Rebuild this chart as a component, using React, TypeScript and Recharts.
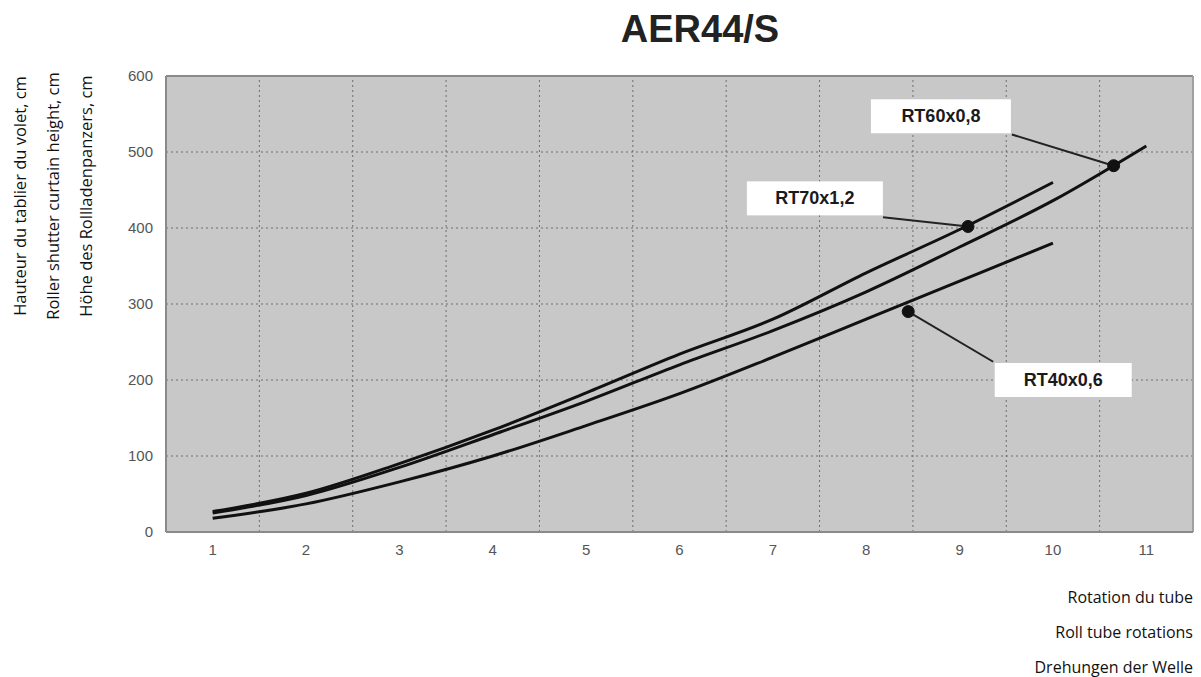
import React from 'react';
import {
  LineChart, Line, XAxis, YAxis, CartesianGrid, ReferenceLine, ReferenceDot,
} from 'recharts';

const rotations = [1, 2, 3, 4, 5, 6, 7, 8, 9, 10, 11];
const rt70x12 = [27, 51, 90, 134, 183, 234, 280, 341, 398, 460, null];
const rt60x08 = [25, 48, 85, 128, 172, 220, 265, 316, 375, 436, 508];
const rt40x06 = [18, 37, 66, 100, 140, 182, 230, 280, 330, 380, null];
const yTicks = [0, 100, 200, 300, 400, 500, 600];
const bandEdges = [1.5, 2.5, 3.5, 4.5, 5.5, 6.5, 7.5, 8.5, 9.5, 10.5];

// annotations: label text, label box centre, marker point on the curve
const annLabels = ['RT60x0,8', 'RT70x1,2', 'RT40x0,6'];
const annBoxX = [8.8, 7.45, 10.11];
const annBoxY = [547, 439, 200];
const annLeadX = [9.56, 8.18, 9.36];
const annLeadY = [523, 414, 224];
const annDotX = [10.65, 9.09, 8.45];
const annDotY = [482, 402, 290];

const yTitle = ['Hauteur du tablier du volet, cm', 'Roller shutter curtain height, cm', 'Höhe des Rollladenpanzers, cm'];
const xTitle = ['Rotation du tube', 'Roll tube rotations', 'Drehungen der Welle'];

const data = rotations.map((r, i) => ({
  x: r,
  rt70: rt70x12[i],
  rt60: rt60x08[i],
  rt40: rt40x06[i],
}));

const W = 1201;
const H = 677;

const LabelBox = (props: any) => {
  const { cx, cy, text, w } = props;
  if (cx == null || cy == null) return null;
  return (
    <g>
      <rect x={cx - w / 2} y={cy - 17} width={w} height={34} fill="#ffffff" />
      <text x={cx} y={cy} textAnchor="middle" dominantBaseline="central"
        fontFamily="Liberation Sans, Arial, sans-serif" fontSize={18} fill="#1a1a1a" fontWeight="bold">
        {text}
      </text>
    </g>
  );
};

const boxW = [140, 136, 137];

export default function App() {
  return (
    <div style={{ position: 'absolute', left: 0, top: 0, width: W, height: H, background: '#ffffff' }}>
      <LineChart width={W} height={H} data={data}
        margin={{ top: 76, right: 8, bottom: 105, left: 0 }}>
        <CartesianGrid vertical={false} horizontal={false} fill="#c8c8c8" />
        {yTicks.slice(1, 6).map((v) => (
          <ReferenceLine key={'h' + v} y={v} stroke="#6e6e6e" strokeDasharray="2 3" strokeWidth={1} />
        ))}
        {bandEdges.map((v) => (
          <ReferenceLine key={'v' + v} x={v} stroke="#6e6e6e" strokeDasharray="2 3" strokeWidth={1} />
        ))}
        <ReferenceLine y={600} stroke="#8a8a8a" strokeWidth={2} />
        <ReferenceLine x={11.5} stroke="#a0a0a0" strokeWidth={2} />
        <XAxis dataKey="x" type="number" domain={[0.5, 11.5]} ticks={rotations}
          allowDataOverflow interval={0} height={40}
          axisLine={{ stroke: '#8a8a8a', strokeWidth: 2 }} tickLine={false} tickSize={0} tickMargin={12}
          tick={{ fill: '#555555', fontSize: 15, fontFamily: 'Liberation Sans, Arial, sans-serif' }} />
        <YAxis type="number" domain={[0, 600]} ticks={yTicks} width={166}
          axisLine={{ stroke: '#8a8a8a', strokeWidth: 2 }} tickLine={false} tickSize={0} tickMargin={13}
          tick={{ fill: '#555555', fontSize: 15, fontFamily: 'Liberation Sans, Arial, sans-serif' }} />
        <Line dataKey="rt70" type="monotone" stroke="#111111" strokeWidth={3} dot={false} isAnimationActive={false} />
        <Line dataKey="rt60" type="monotone" stroke="#111111" strokeWidth={3} dot={false} isAnimationActive={false} />
        <Line dataKey="rt40" type="monotone" stroke="#111111" strokeWidth={3} dot={false} isAnimationActive={false} />
        {annLabels.map((t, i) => (
          <ReferenceLine key={'lead' + i}
            segment={[{ x: annLeadX[i], y: annLeadY[i] }, { x: annDotX[i], y: annDotY[i] }]}
            stroke="#222222" strokeWidth={2} ifOverflow="visible" />
        ))}
        {annLabels.map((t, i) => (
          <ReferenceDot key={'dot' + i} x={annDotX[i]} y={annDotY[i]} r={6}
            fill="#111111" stroke="#111111" ifOverflow="visible" />
        ))}
        {annLabels.map((t, i) => (
          <ReferenceDot key={'box' + i} x={annBoxX[i]} y={annBoxY[i]} r={1} ifOverflow="visible"
            shape={(p: any) => <LabelBox {...p} text={t} w={boxW[i]} />} />
        ))}
      </LineChart>
      <svg width={W} height={H} style={{ position: 'absolute', left: 0, top: 0, pointerEvents: 'none' }}>
        <text x={700} y={42} textAnchor="middle" fontFamily="Liberation Sans, Arial, sans-serif"
          fontWeight="bold" fontSize={38} fill="#222222">AER44/S</text>
        {yTitle.map((t, i) => (
          <text key={t} transform={`translate(${19 + i * 33}, 196) rotate(-90)`} textAnchor="middle"
            dominantBaseline="central" fontFamily="Open Sans, sans-serif" fontSize={16.5} fill="#111111">{t}</text>
        ))}
        {xTitle.map((t, i) => (
          <text key={t} x={1193} y={597 + i * 35} textAnchor="end" dominantBaseline="central"
            fontFamily="Open Sans, sans-serif" fontSize={16} fill="#111111">{t}</text>
        ))}
      </svg>
    </div>
  );
}
